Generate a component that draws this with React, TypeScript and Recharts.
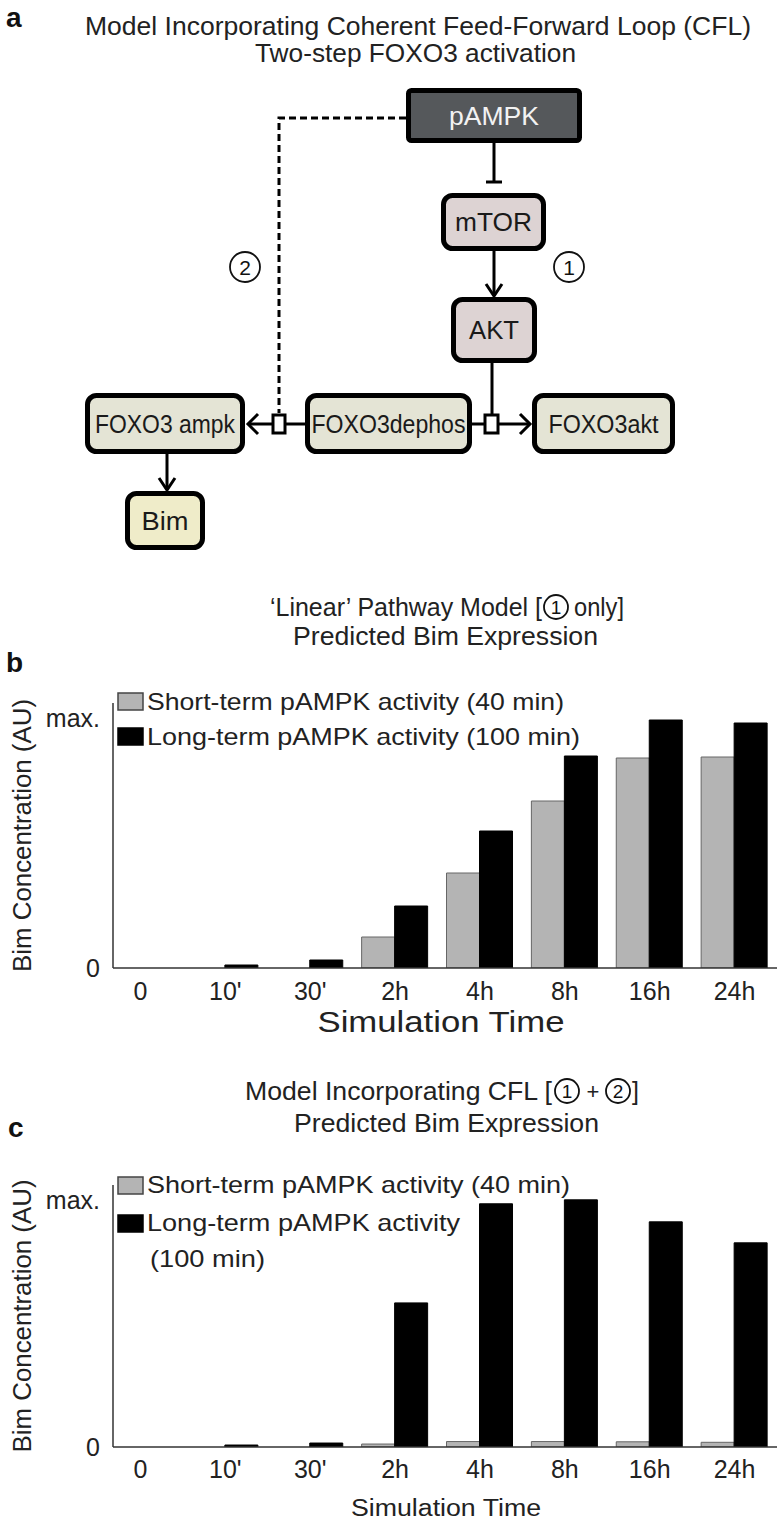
import React from "react";
import { BarChart, Bar, XAxis, YAxis, Legend } from "recharts";

const FONT = "'Liberation Sans', Arial, Helvetica, sans-serif";
const GRAY = "#b4b4b4";
const GRAY_EDGE = "#666666";
const BLACK = "#000000";
const AXIS = "#333333";

// categories and values (fraction of "max.")
const timepoints = ["0", "10'", "30'", "2h", "4h", "8h", "16h", "24h"];
const linearShort = [0, 0, 0, 0.124, 0.38, 0.668, 0.84, 0.844];
const linearLong = [0, 0.012, 0.032, 0.248, 0.548, 0.848, 0.992, 0.98];
const cflShort = [0, 0, 0, 0.012, 0.022, 0.022, 0.021, 0.019];
const cflLong = [0, 0.008, 0.016, 0.583, 0.984, 1.0, 0.911, 0.826];

const yTicks = [0, 1];
const yTickLabels = ["0", "max."];

const legendB = [["Short-term pAMPK activity (40 min)"], ["Long-term pAMPK activity (100 min)"]];
const legendC = [["Short-term pAMPK activity (40 min)"], ["Long-term pAMPK activity", "(100 min)"]];

const rows = (short: number[], long: number[]) =>
  timepoints.map((t, i) => ({ time: t, short: short[i], long: long[i] }));

function XTick(props: any) {
  const { x, y, payload, dy } = props;
  return (
    <text x={x} y={y + dy} textAnchor="middle" fontSize={25} fontFamily={FONT} fill="#222">
      {payload.value}
    </text>
  );
}

function YTick(props: any) {
  const { x, y, payload } = props;
  const idx = yTicks.indexOf(payload.value);
  return (
    <text x={x - 5} y={y + 9} textAnchor="end" fontSize={25} fontFamily={FONT} fill="#222">
      {yTickLabels[idx]}
    </text>
  );
}

function LegendBox({ lines, rowsY }: { lines: string[][]; rowsY: number[][] }) {
  // rowsY: [boxTop, baseline, textLength, extraBaseline, extraLength]
  return (
    <svg width={620} height={130} style={{ display: "block", fontFamily: FONT }}>
      {lines.map((l, i) => (
        <g key={i}>
          <rect
            x={118}
            y={rowsY[i][0]}
            width={25}
            height={17}
            fill={i === 0 ? GRAY : BLACK}
            stroke={i === 0 ? "#444" : BLACK}
            strokeWidth={1.5}
          />
          <text x={147} y={rowsY[i][1]} fontSize={24} fill="#222" textLength={rowsY[i][2]} lengthAdjust="spacingAndGlyphs">
            {l[0]}
          </text>
          {l[1] && (
            <text x={150} y={rowsY[i][3]} fontSize={24} fill="#222" textLength={rowsY[i][4]} lengthAdjust="spacingAndGlyphs">
              {l[1]}
            </text>
          )}
        </g>
      ))}
    </svg>
  );
}

function BimChart({
  data,
  top,
  height,
  plotTop,
  xAxisHeight,
  tickDy,
  xTitle,
  legend,
  legendRows,
}: {
  data: { time: string; short: number; long: number }[];
  top: number;
  height: number;
  plotTop: number;
  xAxisHeight: number;
  tickDy: number;
  xTitle: { size: number; baseline: number; length: number; dx: number };
  legend: string[][];
  legendRows: number[][];
}) {
  return (
    <div style={{ position: "absolute", left: 0, top, width: 779, height }}>
      <BarChart
        width={779}
        height={height}
        data={data}
        margin={{ top: plotTop, right: 2, bottom: 0, left: 43 }}
        barGap={0}
        barSize={33}
      >
        <XAxis
          dataKey="time"
          height={xAxisHeight}
          padding={{ left: -15, right: 0 }}
          tickLine={false}
          interval={0}
          axisLine={{ stroke: AXIS, strokeWidth: 1.5 }}
          tick={<XTick dy={tickDy} />}
          label={(p: any) => {
            const vb = p.viewBox || {};
            return (
              <text
                x={vb.x + vb.width / 2 + xTitle.dx}
                y={vb.y + xTitle.baseline}
                textAnchor="middle"
                fontSize={xTitle.size}
                fontFamily={FONT}
                fill="#222"
                textLength={xTitle.length}
                lengthAdjust="spacingAndGlyphs"
              >
                Simulation Time
              </text>
            );
          }}
        />
        <YAxis
          width={70}
          domain={[0, 1.06]}
          ticks={yTicks}
          allowDataOverflow
          tickLine={false}
          axisLine={{ stroke: AXIS, strokeWidth: 1.5 }}
          tick={<YTick />}
          label={(p: any) => {
            const vb = p.viewBox || {};
            const cy = vb.y + vb.height / 2;
            return (
              <text
                x={22}
                y={cy}
                transform={`rotate(-90 22 ${cy})`}
                textAnchor="middle"
                dominantBaseline="central"
                fontSize={26}
                fontFamily={FONT}
                fill="#222"
                textLength={273}
                lengthAdjust="spacingAndGlyphs"
              >
                Bim Concentration (AU)
              </text>
            );
          }}
        />
        <Legend
          layout="vertical"
          align="center"
          verticalAlign="middle"
          wrapperStyle={{ top: 0, left: 0, width: 620, height: 130 }}
          content={() => <LegendBox lines={legend} rowsY={legendRows} />}
        />
        <Bar dataKey="short" name="Short-term" fill={GRAY} stroke={GRAY_EDGE} strokeWidth={1} isAnimationActive={false} />
        <Bar dataKey="long" name="Long-term" fill={BLACK} stroke={BLACK} strokeWidth={1} isAnimationActive={false} />
      </BarChart>
    </div>
  );
}

function Node({
  x1,
  y1,
  x2,
  y2,
  fill,
  label,
  tw,
  rx = 9,
  color = "#1a1a1a",
}: {
  x1: number;
  y1: number;
  x2: number;
  y2: number;
  fill: string;
  label: string;
  tw: number;
  rx?: number;
  color?: string;
}) {
  const cx = (x1 + x2) / 2;
  const cy = (y1 + y2) / 2;
  return (
    <g>
      <rect x={x1 + 2.5} y={y1 + 2.5} width={x2 - x1 - 5} height={y2 - y1 - 5} rx={rx} fill={fill} stroke="#000" strokeWidth={5} />
      <text x={cx} y={cy + 9} textAnchor="middle" fontSize={25} fill={color} textLength={tw} lengthAdjust="spacingAndGlyphs">
        {label}
      </text>
    </g>
  );
}

function Num({ cx, cy, n, r = 15, size = 21 }: { cx: number; cy: number; n: string; r?: number; size?: number }) {
  return (
    <g>
      <circle cx={cx} cy={cy} r={r} fill="#fff" stroke="#111" strokeWidth={1.8} />
      <text x={cx} y={cy + size * 0.36} textAnchor="middle" fontSize={size} fill="#111">
        {n}
      </text>
    </g>
  );
}

function Overlay() {
  const arrowHead = (pts: string) => <polyline points={pts} fill="none" stroke="#000" strokeWidth={3} />;
  return (
    <svg width={779} height={1521} style={{ position: "absolute", left: 0, top: 0, fontFamily: FONT }} >
      {/* panel a */}
      <text x={6} y={27} fontSize={28} fontWeight="bold" fill="#111">a</text>
      <text x={85} y={35} fontSize={25} fill="#222" textLength={666} lengthAdjust="spacingAndGlyphs">
        Model Incorporating Coherent Feed-Forward Loop (CFL)
      </text>
      <text x={255} y={62} fontSize={25} fill="#222" textLength={321} lengthAdjust="spacingAndGlyphs">
        Two-step FOXO3 activation
      </text>

      <polyline points="406,118 279,118 279,413" fill="none" stroke="#000" strokeWidth={3} strokeDasharray="7 4" />
      <line x1={494} y1={143} x2={494} y2={182} stroke="#000" strokeWidth={3} />
      <line x1={486} y1={182} x2={502} y2={182} stroke="#000" strokeWidth={3} />
      <line x1={494} y1={251} x2={494} y2={296} stroke="#000" strokeWidth={3} />
      {arrowHead("486,284 494,296 502,284")}
      <line x1={492} y1={363} x2={492} y2={414} stroke="#000" strokeWidth={3} />
      <line x1={472} y1={424} x2={484} y2={424} stroke="#000" strokeWidth={3} />
      <line x1={499} y1={424} x2={530} y2={424} stroke="#000" strokeWidth={3} />
      {arrowHead("520,414 530,424 520,434")}
      <line x1={286} y1={424} x2={305} y2={424} stroke="#000" strokeWidth={3} />
      <line x1={248} y1={424} x2={272} y2={424} stroke="#000" strokeWidth={3} />
      {arrowHead("258,414 248,424 258,434")}
      <line x1={167} y1={454} x2={167} y2={490} stroke="#000" strokeWidth={3} />
      {arrowHead("159,478 167,490 175,478")}

      <Node x1={406} y1={88} x2={582} y2={143} fill="#55585b" label="pAMPK" tw={90} rx={3} color="#f2f2f2" />
      <Node x1={441} y1={193} x2={546} y2={251} fill="#ddd3d3" label="mTOR" tw={77} />
      <Node x1={451} y1={297} x2={537} y2={363} fill="#ddd3d3" label="AKT" tw={50} />
      <Node x1={85} y1={393} x2={245} y2={454} fill="#e4e4d5" label="FOXO3 ampk" tw={140} />
      <Node x1={305} y1={393} x2={472} y2={454} fill="#e4e4d5" label="FOXO3dephos" tw={154} />
      <Node x1={532} y1={393} x2={675} y2={454} fill="#e4e4d5" label="FOXO3akt" tw={110} />
      <Node x1={125} y1={491} x2={205} y2={550} fill="#efecc9" label="Bim" tw={47} />

      <rect x={273} y={415} width={12} height={18} fill="#fff" stroke="#000" strokeWidth={3} />
      <rect x={485} y={415} width={13} height={18} fill="#fff" stroke="#000" strokeWidth={3} />
      <Num cx={569} cy={267} n="1" />
      <Num cx={245} cy={267} n="2" />

      {/* panel b titles */}
      <text x={6} y={672} fontSize={28} fontWeight="bold" fill="#111">b</text>
      <text x={270} y={616} fontSize={25} fill="#222" textLength={272} lengthAdjust="spacingAndGlyphs">
        {"\u2018Linear\u2019 Pathway Model ["}
      </text>
      <Num cx={556} cy={607} n="1" r={12} size={19} />
      <text x={574} y={616} fontSize={25} fill="#222" textLength={50} lengthAdjust="spacingAndGlyphs">
        only]
      </text>
      <text x={293} y={645} fontSize={25} fill="#222" textLength={305} lengthAdjust="spacingAndGlyphs">
        Predicted Bim Expression
      </text>

      {/* panel c titles */}
      <text x={8} y={1137} fontSize={28} fontWeight="bold" fill="#111">c</text>
      <text x={245} y={1100} fontSize={25} fill="#222" textLength={307} lengthAdjust="spacingAndGlyphs">
        Model Incorporating CFL [
      </text>
      <Num cx={567} cy={1091} n="1" r={12} size={19} />
      <text x={593} y={1099} fontSize={22} fill="#222" textAnchor="middle">+</text>
      <Num cx={618} cy={1091} n="2" r={12} size={19} />
      <text x={632} y={1100} fontSize={25} fill="#222">]</text>
      <text x={294} y={1132} fontSize={25} fill="#222" textLength={305} lengthAdjust="spacingAndGlyphs">
        Predicted Bim Expression
      </text>
    </svg>
  );
}

export default function App() {
  return (
    <div style={{ position: "absolute", left: 0, top: 0, width: 779, height: 1521, background: "#fff", fontFamily: FONT }}>
      <Overlay />
      <BimChart
        data={rows(linearShort, linearLong)}
        top={680}
        height={362}
        plotTop={23}
        xAxisHeight={74}
        tickDy={24}
        xTitle={{ size: 29, baseline: 64, length: 247, dx: -4 }}
        legend={legendB}
        legendRows={[
          [13, 30, 417],
          [48, 65, 433],
        ]}
      />
      <BimChart
        data={rows(cflShort, cflLong)}
        top={1160}
        height={361}
        plotTop={25}
        xAxisHeight={74}
        tickDy={23}
        xTitle={{ size: 23, baseline: 69, length: 190, dx: 1 }}
        legend={legendC}
        legendRows={[
          [17, 33, 423, 0, 0],
          [55, 71, 313, 107, 115],
        ]}
      />
    </div>
  );
}
